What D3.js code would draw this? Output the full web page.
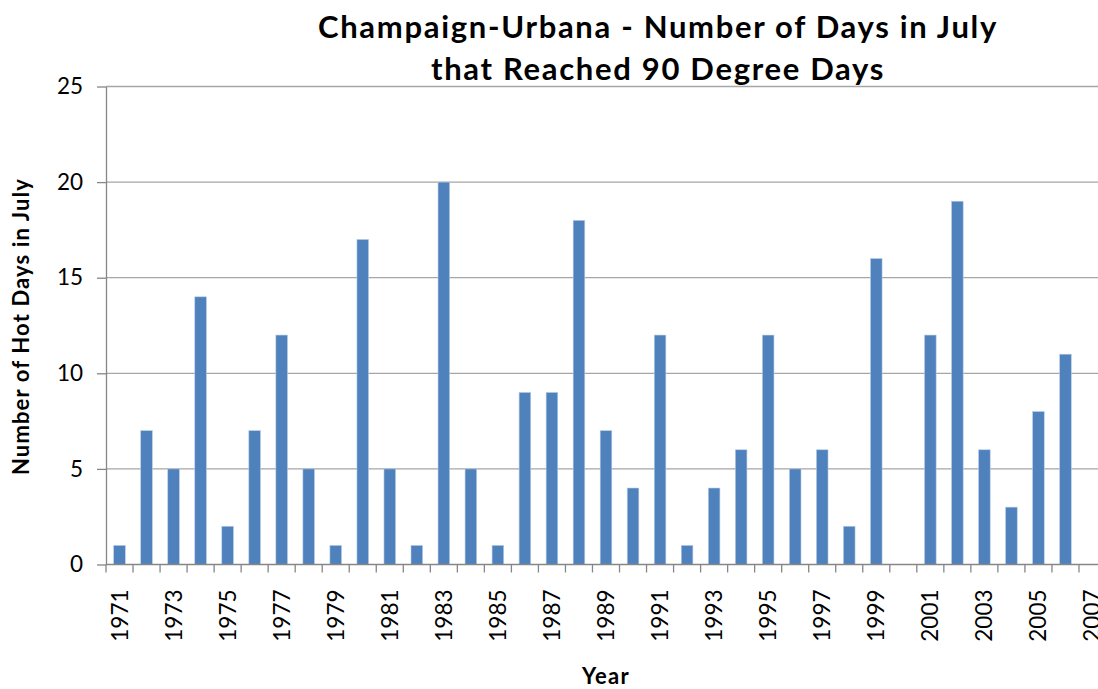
<!DOCTYPE html>
<html><head><meta charset="utf-8">
<script src="https://cdn.jsdelivr.net/npm/d3@7"></script>
<style>body{margin:0;background:#fff} svg{display:block}</style>
</head><body>
<svg id="chart" width="1098" height="689"></svg>
<script>
const years = ["1971","1972","1973","1974","1975","1976","1977","1978","1979","1980",
  "1981","1982","1983","1984","1985","1986","1987","1988","1989","1990",
  "1991","1992","1993","1994","1995","1996","1997","1998","1999","2000",
  "2001","2002","2003","2004","2005","2006","2007"];
const hotDays = [1,7,5,14,2,7,12,5,1,17,
  5,1,20,5,1,9,9,18,7,4,
  12,1,4,6,12,5,6,2,16,0,
  12,19,6,3,8,11,0];
const yTicks = [0,5,10,15,20,25];
const labeledYears = years.filter((d,i)=>i%2===0);
const titleLines = ["Champaign-Urbana - Number of Days in July","that Reached 90 Degree Days"];
const yTitle = "Number of Hot Days in July";
const xTitle = "Year";

const W = 1098, H = 689;
const pLeft = 106, pRight = 1106, pTop = 86.5, pBottom = 564.5;
const font = "Lato, 'Open Sans', sans-serif";
const svg = d3.select("#chart");

function fitWidth(sel, target) {
  sel.each(function() {
    const n = this.textContent.length;
    const len = this.getComputedTextLength();
    d3.select(this).attr("letter-spacing", ((target - len) / n).toFixed(3));
  });
}

const pad = 0.57;
const x = d3.scaleBand().domain(years).range([pLeft, pRight]).paddingInner(pad).paddingOuter(pad/2);
const y = d3.scaleLinear().domain([0,25]).range([pBottom, pTop]);

// gridlines
svg.append("g").selectAll("line").data(yTicks.filter(d=>d>0)).join("line")
  .attr("x1", pLeft).attr("x2", W).attr("y1", d=>y(d)).attr("y2", d=>y(d))
  .attr("stroke", "#a6a6a6").attr("stroke-width", 1.3);

// bars
svg.append("g").selectAll("rect").data(years).join("rect")
  .attr("x", d=>x(d)).attr("width", x.bandwidth())
  .attr("y", (d,i)=>y(hotDays[i])).attr("height", (d,i)=>y(0)-y(hotDays[i]))
  .attr("fill", "#4f81bd").attr("stroke", "#b9cde5").attr("stroke-width", 0.6);

// y axis
const ya = svg.append("g").attr("transform", `translate(${pLeft},0)`)
  .call(d3.axisLeft(y).tickValues(yTicks).tickSize(9).tickSizeOuter(0).tickPadding(14));
ya.select(".domain").attr("stroke", "#868686").attr("stroke-width", 1.3);
ya.selectAll(".tick line").attr("stroke", "#868686").attr("stroke-width", 1.3);
ya.selectAll(".tick text").attr("font-family", font).attr("font-size", 22.5).attr("fill", "#000");

// x axis line
svg.append("line").attr("x1", pLeft).attr("x2", W).attr("y1", pBottom).attr("y2", pBottom)
  .attr("stroke", "#868686").attr("stroke-width", 1.3);
// x tick marks at band boundaries
const step = x.step();
svg.append("g").selectAll("line").data(d3.range(years.length + 1)).join("line")
  .attr("x1", i=>pLeft + i*step).attr("x2", i=>pLeft + i*step)
  .attr("y1", pBottom).attr("y2", pBottom + 8)
  .attr("stroke", "#868686").attr("stroke-width", 1.3);
// x labels
svg.append("g").selectAll("text").data(labeledYears).join("text")
  .attr("transform", d=>`translate(${x(d)+x.bandwidth()/2 + 8},${pBottom + 25}) rotate(-90)`)
  .attr("text-anchor", "end")
  .attr("font-family", font).attr("font-size", 22.5).attr("fill", "#000")
  .text(d=>d);

// title
const tt = svg.append("g").selectAll("text").data(titleLines).join("text")
  .attr("x", 658).attr("y", (d,i)=>38 + i*42)
  .attr("text-anchor", "middle").attr("font-family", font).attr("font-weight", "bold")
  .attr("font-size", 31).attr("fill", "#000").text(d=>d);
fitWidth(tt.filter((d,i)=>i===0), 680);
tt.filter((d,i)=>i===1).attr("letter-spacing", tt.filter((d,i)=>i===0).attr("letter-spacing"));

// axis titles
const yt = svg.append("text").attr("transform", `translate(29,326.5) rotate(-90)`)
  .attr("text-anchor", "middle").attr("font-family", font).attr("font-weight", "bold")
  .attr("font-size", 22).attr("fill", "#000").text(yTitle);
fitWidth(yt, 297);
const xt = svg.append("text").attr("x", 606).attr("y", 684)
  .attr("text-anchor", "middle").attr("font-family", font).attr("font-weight", "bold")
  .attr("font-size", 22).attr("fill", "#000").text(xTitle);
fitWidth(xt, 48);
</script>
</body></html>
